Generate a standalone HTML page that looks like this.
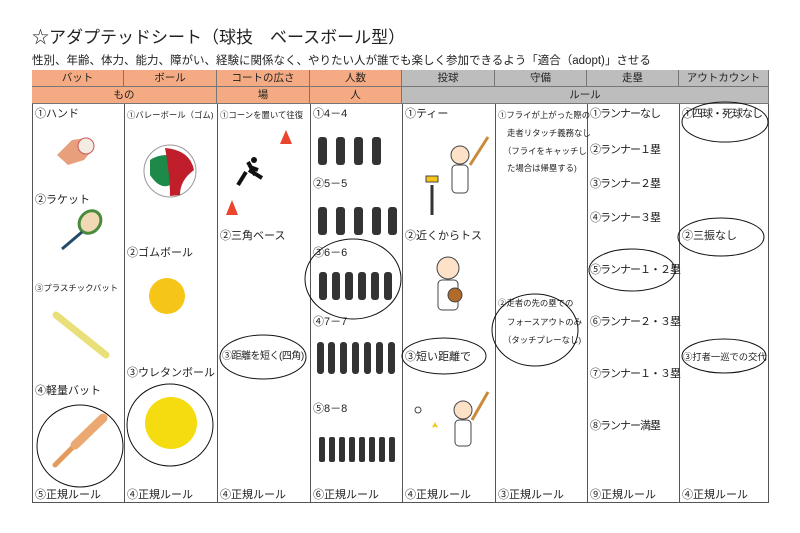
<!DOCTYPE html>
<html><head><meta charset="utf-8"><style>
body{margin:0;width:800px;height:533px;background:#fff;position:relative;overflow:hidden;font-family:"Liberation Sans","Noto Sans CJK JP",sans-serif;color:#222}
.t{position:absolute;font-size:11px;white-space:nowrap;line-height:14px}
.s{font-size:8.4px}
.n{letter-spacing:-1px}
.h{position:absolute;font-size:10.5px;text-align:center;line-height:17px;height:17px;box-sizing:border-box;border-right:1px solid #777;border-bottom:1px solid #777}
.o{background:#f4aa82}.g{background:#bdbdbd}
.v{position:absolute;top:104px;height:399px;border-left:1px solid #555}
</style></head><body>
<div class="t" style="left:32px;top:27px;font-size:17px;line-height:22px">☆アダプテッドシート（球技　ベースボール型）</div>
<div class="t" style="left:32px;top:54px;font-size:11.5px">性別、年齢、体力、能力、障がい、経験に関係なく、やりたい人が誰でも楽しく参加できるよう「適合（adopt)」させる</div>
<div style="position:absolute;left:32px;top:70px;width:737px;height:433px;border:1px solid #555;box-sizing:border-box"></div>
<div class="h o" style="left:32px;top:70px;width:92px">バット</div>
<div class="h o" style="left:124px;top:70px;width:93px">ボール</div>
<div class="h o" style="left:217px;top:70px;width:93px">コートの広さ</div>
<div class="h o" style="left:310px;top:70px;width:92px">人数</div>
<div class="h g" style="left:402px;top:70px;width:93px">投球</div>
<div class="h g" style="left:495px;top:70px;width:92px">守備</div>
<div class="h g" style="left:587px;top:70px;width:92px">走塁</div>
<div class="h g" style="left:679px;top:70px;width:90px">アウトカウント</div>
<div class="h o" style="left:32px;top:87px;width:185px">もの</div>
<div class="h o" style="left:217px;top:87px;width:93px">場</div>
<div class="h o" style="left:310px;top:87px;width:92px">人</div>
<div class="h g" style="left:402px;top:87px;width:367px">ルール</div>
<div class="v" style="left:124px"></div><div class="v" style="left:217px"></div><div class="v" style="left:310px"></div><div class="v" style="left:402px"></div><div class="v" style="left:495px"></div><div class="v" style="left:587px"></div><div class="v" style="left:679px"></div>

<div class="t" style="left:35px;top:107px">①ハンド</div>
<div class="t" style="left:35px;top:193px">②ラケット</div>
<div class="t s" style="left:35px;top:281px">③プラスチックバット</div>
<div class="t" style="left:35px;top:384px">④軽量バット</div>
<div class="t" style="left:35px;top:488px">⑤正規ルール</div>
<div class="t s" style="left:127px;top:108px">①バレーボール（ゴム)</div>
<div class="t" style="left:127px;top:246px">②ゴムボール</div>
<div class="t" style="left:127px;top:366px">③ウレタンボール</div>
<div class="t" style="left:127px;top:488px">④正規ルール</div>
<div class="t s" style="left:220px;top:108px">①コーンを置いて往復</div>
<div class="t" style="left:220px;top:229px">②三角ベース</div>
<div class="t" style="left:222px;top:350px;font-size:10px;letter-spacing:-0.5px">③距離を短く(四角)</div>
<div class="t" style="left:220px;top:488px">④正規ルール</div>
<div class="t" style="left:313px;top:107px">①4－4</div>
<div class="t" style="left:313px;top:177px">②5－5</div>
<div class="t" style="left:313px;top:246px">③6－6</div>
<div class="t" style="left:313px;top:315px">④7－7</div>
<div class="t" style="left:313px;top:402px">⑤8－8</div>
<div class="t" style="left:313px;top:488px">⑥正規ルール</div>
<div class="t" style="left:405px;top:107px">①ティー</div>
<div class="t" style="left:405px;top:229px">②近くからトス</div>
<div class="t" style="left:405px;top:350px">③短い距離で</div>
<div class="t" style="left:405px;top:488px">④正規ルール</div>
<div class="t s" style="left:498px;top:108px">①フライが上がった際の</div>
<div class="t s" style="left:507px;top:126px">走者リタッチ義務なし</div>
<div class="t s" style="left:503px;top:144px">（フライをキャッチし</div>
<div class="t s" style="left:507px;top:161px">た場合は帰塁する)</div>
<div class="t s" style="left:498px;top:296px">②走者の先の塁での</div>
<div class="t s" style="left:507px;top:315px">フォースアウトのみ</div>
<div class="t s" style="left:503px;top:333px">（タッチプレーなし)</div>
<div class="t" style="left:498px;top:488px">③正規ルール</div>
<div class="t n" style="left:590px;top:107px">①ランナーなし</div>
<div class="t n" style="left:590px;top:143px">②ランナー１塁</div>
<div class="t n" style="left:590px;top:177px">③ランナー２塁</div>
<div class="t n" style="left:590px;top:211px">④ランナー３塁</div>
<div class="t n" style="left:590px;top:263px">⑤ランナー１・２塁</div>
<div class="t n" style="left:590px;top:315px">⑥ランナー２・３塁</div>
<div class="t n" style="left:590px;top:367px">⑦ランナー１・３塁</div>
<div class="t n" style="left:590px;top:419px">⑧ランナー満塁</div>
<div class="t" style="left:590px;top:488px">⑨正規ルール</div>
<div class="t n" style="left:682px;top:107px">①四球・死球なし</div>
<div class="t" style="left:682px;top:229px">②三振なし</div>
<div class="t" style="left:683px;top:350px;font-size:9.3px">③打者一巡での交代</div>
<div class="t" style="left:682px;top:488px">④正規ルール</div>

<svg width="800" height="533" style="position:absolute;left:0;top:0" fill="none">
<path d="M57 155 L72 140 L86 138 L94 148 L84 160 L68 165 Z" fill="#e8a07c"/>
<circle cx="86" cy="146" r="8" fill="#f3ece4" stroke="#c55" stroke-width="1"/>
<ellipse cx="90" cy="222" rx="10" ry="12" fill="#f2d9b5" stroke="#4a8a3c" stroke-width="3" transform="rotate(40 90 222)"/>
<line x1="82" y1="232" x2="62" y2="249" stroke="#244a6a" stroke-width="3"/>
<line x1="56" y1="315" x2="106" y2="355" stroke="#e9e07a" stroke-width="7" stroke-linecap="round"/>
<path d="M55 465 L100 420" stroke="#e49a5a" stroke-width="5" stroke-linecap="round"/>
<path d="M75 445 L103 418" stroke="#eba870" stroke-width="9" stroke-linecap="round"/>
<circle cx="170" cy="171" r="26" fill="#fff" stroke="#999"/>
<path d="M150 160 Q165 150 185 160 Q175 170 170 185 Q160 190 150 175 Z" fill="#1e8a4a"/>
<path d="M165 148 Q190 150 194 170 Q180 180 180 195 L170 196 Q170 175 165 148Z" fill="#c01e2a"/>
<circle cx="167" cy="296" r="18" fill="#f5c518"/>
<circle cx="171" cy="423" r="26" fill="#f5dc10"/>
<path d="M280 144 L286 130 L292 144 Z" fill="#e8452a"/>
<path d="M226 215 L232 200 L238 215 Z" fill="#e8452a"/>
<path d="M248 162 L255 175 M246 172 L238 185 M250 167 L258 170 M249 170 L262 178" stroke="#111" stroke-width="4"/>
<circle cx="254" cy="160" r="3" fill="#111"/>
<g stroke="#111" stroke-width="1">
<ellipse cx="725" cy="122" rx="43" ry="20"/>
<ellipse cx="721" cy="237" rx="43" ry="19"/>
<ellipse cx="724" cy="356" rx="42" ry="17"/>
<ellipse cx="632" cy="270" rx="43" ry="21"/>
<ellipse cx="535" cy="330" rx="43" ry="36"/>
<ellipse cx="444" cy="356" rx="42" ry="18"/>
<ellipse cx="353" cy="279" rx="48" ry="40"/>
<ellipse cx="263" cy="357" rx="43" ry="22"/>
<ellipse cx="170" cy="425" rx="43" ry="41"/>
<ellipse cx="80" cy="446" rx="43" ry="41"/>
</g>
<g fill="#333">
<rect x="318" y="137" width="9" height="28" rx="3"/><rect x="336" y="137" width="9" height="28" rx="3"/><rect x="354" y="137" width="9" height="28" rx="3"/><rect x="372" y="137" width="9" height="28" rx="3"/>
<rect x="318" y="207" width="9" height="28" rx="3"/><rect x="336" y="207" width="9" height="28" rx="3"/><rect x="354" y="207" width="9" height="28" rx="3"/><rect x="372" y="207" width="9" height="28" rx="3"/><rect x="388" y="207" width="9" height="28" rx="3"/>
<rect x="319" y="272" width="8" height="28" rx="3"/><rect x="332" y="272" width="8" height="28" rx="3"/><rect x="345" y="272" width="8" height="28" rx="3"/><rect x="358" y="272" width="8" height="28" rx="3"/><rect x="371" y="272" width="8" height="28" rx="3"/><rect x="384" y="272" width="8" height="28" rx="3"/>
<rect x="317" y="342" width="7" height="32" rx="3"/><rect x="328" y="342" width="7" height="32" rx="3"/><rect x="340" y="342" width="7" height="32" rx="3"/><rect x="352" y="342" width="7" height="32" rx="3"/><rect x="364" y="342" width="7" height="32" rx="3"/><rect x="376" y="342" width="7" height="32" rx="3"/><rect x="388" y="342" width="7" height="32" rx="3"/>
<rect x="319" y="437" width="6" height="25" rx="2"/><rect x="329" y="437" width="6" height="25" rx="2"/><rect x="339" y="437" width="6" height="25" rx="2"/><rect x="349" y="437" width="6" height="25" rx="2"/><rect x="359" y="437" width="6" height="25" rx="2"/><rect x="369" y="437" width="6" height="25" rx="2"/><rect x="379" y="437" width="6" height="25" rx="2"/><rect x="389" y="437" width="6" height="25" rx="2"/>
</g>
<g stroke="#444" stroke-width="1">
<circle cx="460" cy="155" r="9" fill="#fde2c8"/><rect x="452" y="165" width="16" height="28" rx="4" fill="#fff"/><path d="M432 215 L432 185" stroke="#333" stroke-width="3"/><rect x="426" y="176" width="12" height="6" fill="#f5c518"/><line x1="470" y1="165" x2="488" y2="137" stroke="#c98a3c" stroke-width="3"/>
<circle cx="448" cy="268" r="11" fill="#fde2c8"/><rect x="438" y="280" width="20" height="30" rx="4" fill="#fff"/><circle cx="455" cy="295" r="7" fill="#b06a2a"/>
<circle cx="463" cy="410" r="9" fill="#fde2c8"/><rect x="455" y="420" width="16" height="26" rx="4" fill="#fff"/><line x1="472" y1="420" x2="488" y2="392" stroke="#c98a3c" stroke-width="3"/><circle cx="418" cy="410" r="3" fill="#fff"/>
</g>
<path d="M432 428 l3 -6 l3 6 l-6 -3 h6z" fill="#f5c518"/>
</svg>
</body></html>
